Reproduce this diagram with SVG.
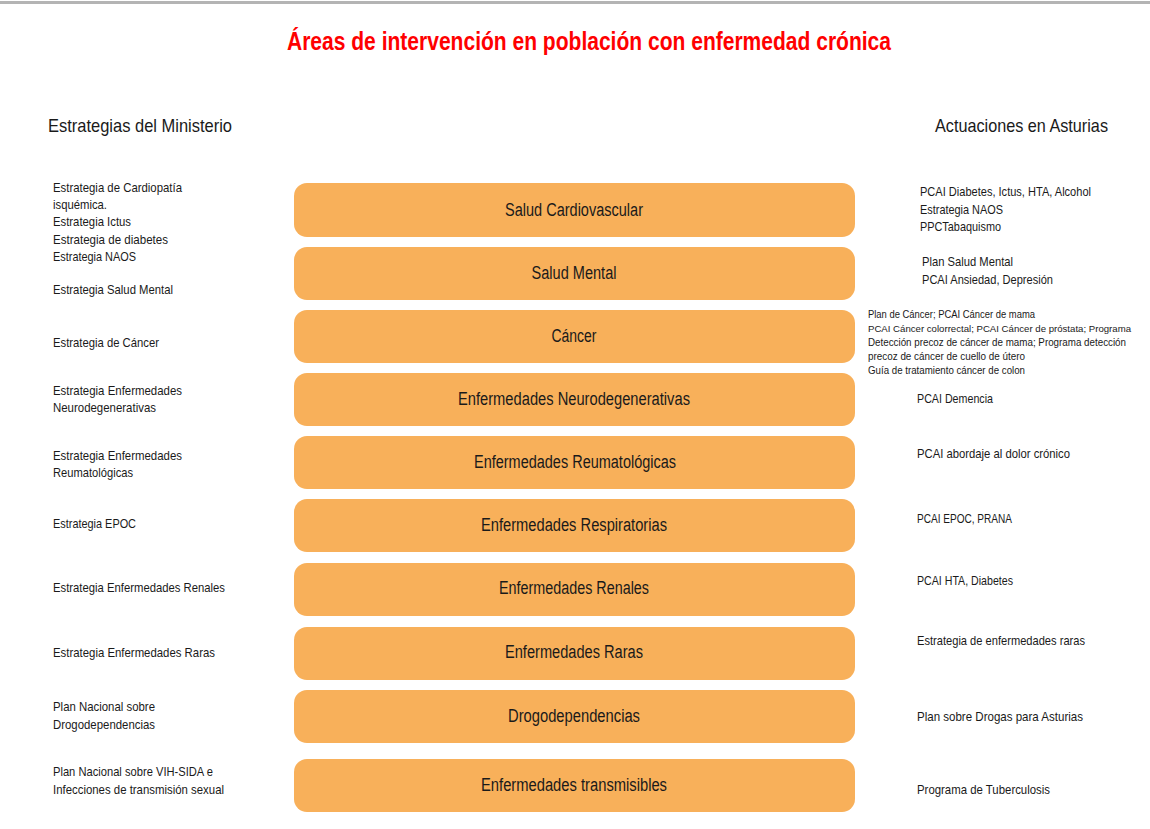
<svg xmlns="http://www.w3.org/2000/svg" width="1150" height="829" viewBox="0 0 1150 829">
<style>
text{font-family:"Liberation Sans",Arial,sans-serif;fill:#1a1a1a}
.title{font-size:25px;font-weight:bold;fill:#ff0000}
.hdr{font-size:19px}
.l{font-size:13.5px}
.r{font-size:13.5px}
.s{font-size:10.5px}
.s2{font-size:9.8px}
.pl{font-size:18px;text-anchor:middle}
.pill{fill:#f8b05a}
</style>
<rect x="0" y="0" width="1150" height="829" fill="#ffffff"/>
<rect x="0" y="1" width="1150" height="3" fill="#b4b4b4"/>
<text class="title" x="287" y="50" textLength="604" lengthAdjust="spacingAndGlyphs">Áreas de intervención en población con enfermedad crónica</text>
<text class="hdr" x="48" y="132" textLength="184" lengthAdjust="spacingAndGlyphs">Estrategias del Ministerio</text>
<text class="hdr" x="935" y="132" textLength="173" lengthAdjust="spacingAndGlyphs">Actuaciones en Asturias</text>

<g id="nodes">
<g id="n1"><rect class="pill" x="294" y="183" width="561" height="54" rx="13"/><text class="pl" x="574" y="216" textLength="138" lengthAdjust="spacingAndGlyphs">Salud Cardiovascular</text></g>
<g id="n2"><rect class="pill" x="294" y="247" width="561" height="53" rx="13"/><text class="pl" x="574" y="279" textLength="85" lengthAdjust="spacingAndGlyphs">Salud Mental</text></g>
<g id="n3"><rect class="pill" x="294" y="310" width="561" height="53" rx="13"/><text class="pl" x="574" y="342" textLength="45" lengthAdjust="spacingAndGlyphs">Cáncer</text></g>
<g id="n4"><rect class="pill" x="294" y="373" width="561" height="53" rx="13"/><text class="pl" x="574" y="405" textLength="232" lengthAdjust="spacingAndGlyphs">Enfermedades Neurodegenerativas</text></g>
<g id="n5"><rect class="pill" x="294" y="436" width="561" height="53" rx="13"/><text class="pl" x="575" y="468" textLength="202" lengthAdjust="spacingAndGlyphs">Enfermedades Reumatológicas</text></g>
<g id="n6"><rect class="pill" x="294" y="499" width="561" height="53" rx="13"/><text class="pl" x="574" y="531" textLength="186" lengthAdjust="spacingAndGlyphs">Enfermedades Respiratorias</text></g>
<g id="n7"><rect class="pill" x="294" y="563" width="561" height="53" rx="13"/><text class="pl" x="574" y="594" textLength="150" lengthAdjust="spacingAndGlyphs">Enfermedades Renales</text></g>
<g id="n8"><rect class="pill" x="294" y="627" width="561" height="53" rx="13"/><text class="pl" x="574" y="658" textLength="138" lengthAdjust="spacingAndGlyphs">Enfermedades Raras</text></g>
<g id="n9"><rect class="pill" x="294" y="690" width="561" height="53" rx="13"/><text class="pl" x="574" y="722" textLength="132" lengthAdjust="spacingAndGlyphs">Drogodependencias</text></g>
<g id="n10"><rect class="pill" x="294" y="759" width="561" height="53" rx="13"/><text class="pl" x="574" y="791" textLength="186" lengthAdjust="spacingAndGlyphs">Enfermedades transmisibles</text></g>
</g>

<g id="left">
<text class="l" x="53" y="192" textLength="129" lengthAdjust="spacingAndGlyphs">Estrategia de Cardiopatía</text>
<text class="l" x="53" y="209" textLength="54" lengthAdjust="spacingAndGlyphs">isquémica.</text>
<text class="l" x="53" y="226" textLength="78" lengthAdjust="spacingAndGlyphs">Estrategia Ictus</text>
<text class="l" x="53" y="244" textLength="115" lengthAdjust="spacingAndGlyphs">Estrategia de diabetes</text>
<text class="l" x="53" y="261" textLength="83" lengthAdjust="spacingAndGlyphs">Estrategia NAOS</text>
<text class="l" x="53" y="294" textLength="120" lengthAdjust="spacingAndGlyphs">Estrategia Salud Mental</text>
<text class="l" x="53" y="347" textLength="106" lengthAdjust="spacingAndGlyphs">Estrategia de Cáncer</text>
<text class="l" x="53" y="395" textLength="129" lengthAdjust="spacingAndGlyphs">Estrategia Enfermedades</text>
<text class="l" x="53" y="412" textLength="103" lengthAdjust="spacingAndGlyphs">Neurodegenerativas</text>
<text class="l" x="53" y="460" textLength="129" lengthAdjust="spacingAndGlyphs">Estrategia Enfermedades</text>
<text class="l" x="53" y="477" textLength="80" lengthAdjust="spacingAndGlyphs">Reumatológicas</text>
<text class="l" x="53" y="528" textLength="83" lengthAdjust="spacingAndGlyphs">Estrategia EPOC</text>
<text class="l" x="53" y="592" textLength="172" lengthAdjust="spacingAndGlyphs">Estrategia Enfermedades Renales</text>
<text class="l" x="53" y="657" textLength="162" lengthAdjust="spacingAndGlyphs">Estrategia Enfermedades Raras</text>
<text class="l" x="53" y="711" textLength="102" lengthAdjust="spacingAndGlyphs">Plan Nacional sobre</text>
<text class="l" x="53" y="729" textLength="102" lengthAdjust="spacingAndGlyphs">Drogodependencias</text>
<text class="l" x="53" y="776" textLength="160" lengthAdjust="spacingAndGlyphs">Plan Nacional sobre VIH-SIDA e</text>
<text class="l" x="53" y="794" textLength="171" lengthAdjust="spacingAndGlyphs">Infecciones de transmisión sexual</text>
</g>

<g id="right">
<text class="r" x="920" y="196" textLength="171" lengthAdjust="spacingAndGlyphs">PCAI Diabetes, Ictus, HTA, Alcohol</text>
<text class="r" x="920" y="214" textLength="83" lengthAdjust="spacingAndGlyphs">Estrategia NAOS</text>
<text class="r" x="920" y="231" textLength="81" lengthAdjust="spacingAndGlyphs">PPCTabaquismo</text>
<text class="r" x="922" y="266" textLength="91" lengthAdjust="spacingAndGlyphs">Plan Salud Mental</text>
<text class="r" x="922" y="284" textLength="131" lengthAdjust="spacingAndGlyphs">PCAI Ansiedad, Depresión</text>
<text class="s" x="868" y="318" textLength="167" lengthAdjust="spacingAndGlyphs">Plan de Cáncer; PCAI Cáncer de mama</text>
<text class="s2" x="868" y="332" textLength="263" lengthAdjust="spacingAndGlyphs">PCAI Cáncer colorrectal; PCAI Cáncer de próstata; Programa</text>
<text class="s" x="868" y="346" textLength="258" lengthAdjust="spacingAndGlyphs">Detección precoz de cáncer de mama; Programa detección</text>
<text class="s" x="868" y="360" textLength="157" lengthAdjust="spacingAndGlyphs">precoz de cáncer de cuello de útero</text>
<text class="s" x="868" y="374" textLength="157" lengthAdjust="spacingAndGlyphs">Guía de tratamiento cáncer de colon</text>
<text class="r" x="917" y="403" textLength="76" lengthAdjust="spacingAndGlyphs">PCAI Demencia</text>
<text class="r" x="917" y="458" textLength="153" lengthAdjust="spacingAndGlyphs">PCAI abordaje al dolor crónico</text>
<text class="r" x="917" y="523" textLength="95" lengthAdjust="spacingAndGlyphs">PCAI EPOC, PRANA</text>
<text class="r" x="917" y="585" textLength="96" lengthAdjust="spacingAndGlyphs">PCAI HTA, Diabetes</text>
<text class="r" x="917" y="645" textLength="168" lengthAdjust="spacingAndGlyphs">Estrategia de enfermedades raras</text>
<text class="r" x="917" y="721" textLength="166" lengthAdjust="spacingAndGlyphs">Plan sobre Drogas para Asturias</text>
<text class="r" x="917" y="794" textLength="133" lengthAdjust="spacingAndGlyphs">Programa de Tuberculosis</text>
</g>
<g id="connectors"/>
</svg>
